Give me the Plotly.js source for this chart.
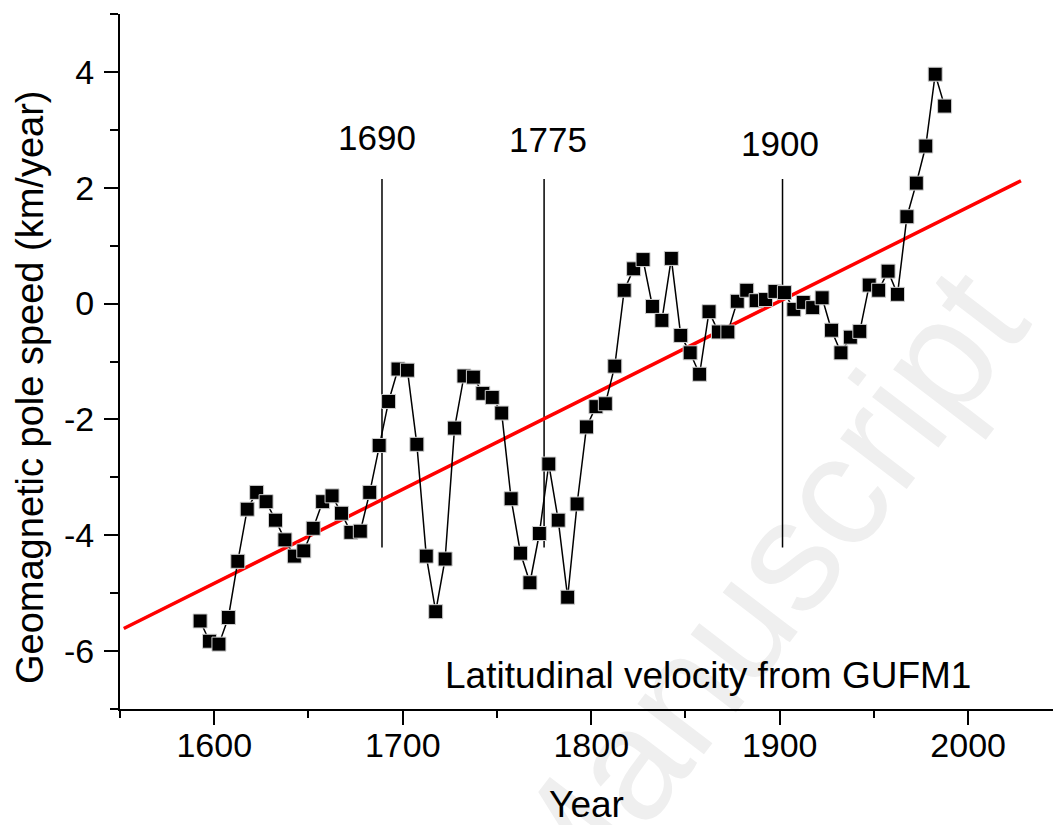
<!DOCTYPE html>
<html>
<head>
<meta charset="utf-8">
<script src="https://cdn.plot.ly/plotly-3.0.1.min.js"></script>
<style>
html,body{margin:0;padding:0;background:#fff;}
#wrap{position:relative;width:1053px;height:825px;overflow:hidden;background:#fff;}
#watermark{position:absolute;left:755px;top:597px;transform:translate(-50%,-50%) rotate(-52.6deg);
  font-family:'Liberation Sans',Arial,sans-serif;font-size:158px;line-height:1;color:#efefef;white-space:nowrap;z-index:0;}
#chart{position:absolute;left:0;top:0;width:1053px;height:825px;z-index:1;}
</style>
</head>
<body>
<div id="wrap">
<div id="watermark">Manuscript</div>
<div id="chart"></div>
</div>
<script>
// Latitudinal velocity from GUFM1
const years = [1592.5,1597.5,1602.5,1607.5,1612.5,1617.5,1622.5,1627.5,1632.5,1637.5,
  1642.5,1647.5,1652.5,1657.5,1662.5,1667.5,1672.5,1677.5,1682.5,1687.5,
  1692.5,1697.5,1702.5,1707.5,1712.5,1717.5,1722.5,1727.5,1732.5,1737.5,
  1742.5,1747.5,1752.5,1757.5,1762.5,1767.5,1772.5,1777.5,1782.5,1787.5,
  1792.5,1797.5,1802.5,1807.5,1812.5,1817.5,1822.5,1827.5,1832.5,1837.5,
  1842.5,1847.5,1852.5,1857.5,1862.5,1867.5,1872.5,1877.5,1882.5,1887.5,
  1892.5,1897.5,1902.5,1907.5,1912.5,1917.5,1922.5,1927.5,1932.5,1937.5,
  1942.5,1947.5,1952.5,1957.5,1962.5,1967.5,1972.5,1977.5,1982.5,1987.5];
const speed = [-5.48,-5.83,-5.88,-5.42,-4.45,-3.55,-3.26,-3.42,-3.74,-4.08,
  -4.36,-4.27,-3.88,-3.42,-3.32,-3.62,-3.95,-3.93,-3.26,-2.45,
  -1.69,-1.13,-1.15,-2.43,-4.36,-5.32,-4.41,-2.15,-1.25,-1.27,
  -1.55,-1.62,-1.89,-3.37,-4.31,-4.82,-3.97,-2.77,-3.74,-5.07,
  -3.46,-2.13,-1.78,-1.73,-1.08,0.23,0.60,0.76,-0.05,-0.29,
  0.78,-0.55,-0.85,-1.22,-0.14,-0.49,-0.49,0.04,0.23,0.05,
  0.07,0.21,0.19,-0.10,0.02,-0.07,0.10,-0.46,-0.85,-0.58,
  -0.48,0.32,0.23,0.56,0.16,1.50,2.08,2.72,3.96,3.41];

// Linear trend (red)
const trendX = [1552, 2028];
const trendY = [-5.61, 2.12];

// Event markers
const eventLabels = ['1690', '1775', '1900'];
const eventLineX = [1689, 1775, 1901.5];
const eventLineTop = 2.15;
const eventLineBottom = -4.21;
const eventLabelX = [1686.3, 1776.9, 1900.3];
const eventLabelY = [2.87, 2.84, 2.77];

// Axis ticks
const xTickVals = [1600, 1700, 1800, 1900, 2000];
const xTickText = ['1600', '1700', '1800', '1900', '2000'];
const yTickVals = [-6, -4, -2, 0, 2, 4];
const yTickText = ['-6', '-4', '-2', '0', '2', '4'];

const seriesLabel = 'Latitudinal velocity from GUFM1';
const xTitle = 'Year';
const yTitle = 'Geomagnetic pole speed (km/year)';

const FONT = 'Liberation Sans, Arial, sans-serif';

const traces = [];
eventLineX.forEach(function (x) {
  traces.push({
    x: [x, x], y: [eventLineTop, eventLineBottom],
    mode: 'lines', line: {color: '#000', width: 1.5},
    hoverinfo: 'skip', showlegend: false
  });
});
traces.push({
  x: trendX, y: trendY, mode: 'lines',
  line: {color: '#ff0000', width: 3.5}, showlegend: false
});
traces.push({
  x: years, y: speed, mode: 'lines+markers',
  line: {color: '#000', width: 1.5},
  marker: {symbol: 'square', size: 14, color: '#000', line: {color: '#d0d0d0', width: 1}},
  showlegend: false
});

const annotations = eventLabels.map(function (t, i) {
  return {x: eventLabelX[i], y: eventLabelY[i], xref: 'x', yref: 'y', text: t,
    showarrow: false, xanchor: 'center', yanchor: 'middle',
    font: {family: FONT, size: 35, color: '#000'}};
});
annotations.push({x: 1861.7, y: -6.43, xref: 'x', yref: 'y', text: seriesLabel,
  showarrow: false, xanchor: 'center', yanchor: 'middle',
  font: {family: FONT, size: 37, color: '#000'}});
// y-axis title, placed as in the reference
annotations.push({x: (30 - 120) / 933, y: (709 - 387) / 695, xref: 'paper', yref: 'paper',
  text: yTitle, showarrow: false, textangle: -90, xanchor: 'center', yanchor: 'middle',
  font: {family: FONT, size: 38, color: '#000'}});

const axisCommon = {
  showgrid: false, zeroline: false, showline: true, linewidth: 2, linecolor: '#000',
  ticks: 'outside', ticklen: 14, tickwidth: 2, tickcolor: '#000',
  tickfont: {family: FONT, size: 34, color: '#000'}
};

const layout = {
  width: 1053, height: 825,
  margin: {l: 120, r: 0, t: 14, b: 116, pad: 0},
  paper_bgcolor: 'rgba(0,0,0,0)', plot_bgcolor: 'rgba(0,0,0,0)',
  showlegend: false,
  xaxis: Object.assign({}, axisCommon, {
    range: [1550, 2045], tickmode: 'array', tickvals: xTickVals, ticktext: xTickText,
    ticklabelstandoff: -9,
    minor: {tick0: 1550, dtick: 50, ticks: 'outside', ticklen: 7, tickwidth: 2, tickcolor: '#000', showgrid: false},
    title: {text: xTitle, font: {family: FONT, size: 37, color: '#000'}, standoff: 31},
    automargin: false
  }),
  yaxis: Object.assign({}, axisCommon, {
    range: [-7, 5], tickmode: 'array', tickvals: yTickVals, ticktext: yTickText,
    ticklabelstandoff: 3,
    minor: {tick0: 1, dtick: 1, ticks: 'outside', ticklen: 8, tickwidth: 2, tickcolor: '#000', showgrid: false},
    automargin: false
  }),
  annotations: annotations
};

Plotly.newPlot('chart', traces, layout, {displayModeBar: false, staticPlot: true});
</script>
</body>
</html>
